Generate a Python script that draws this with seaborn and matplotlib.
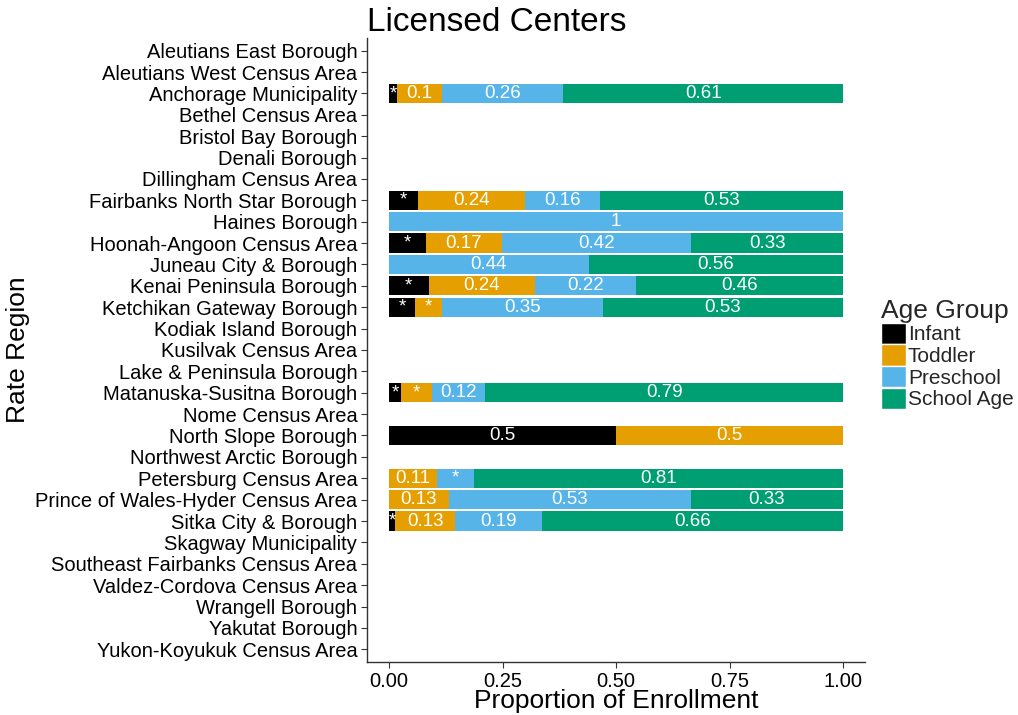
import numpy as np
import pandas as pd
import matplotlib
matplotlib.use("Agg")
import matplotlib.pyplot as plt
import seaborn as sns
from matplotlib.patches import Patch

regions = [
    "Aleutians East Borough", "Aleutians West Census Area", "Anchorage Municipality",
    "Bethel Census Area", "Bristol Bay Borough", "Denali Borough", "Dillingham Census Area",
    "Fairbanks North Star Borough", "Haines Borough", "Hoonah-Angoon Census Area",
    "Juneau City & Borough", "Kenai Peninsula Borough", "Ketchikan Gateway Borough",
    "Kodiak Island Borough", "Kusilvak Census Area", "Lake & Peninsula Borough",
    "Matanuska-Susitna Borough", "Nome Census Area", "North Slope Borough",
    "Northwest Arctic Borough", "Petersburg Census Area", "Prince of Wales-Hyder Census Area",
    "Sitka City & Borough", "Skagway Municipality", "Southeast Fairbanks Census Area",
    "Valdez-Cordova Census Area", "Wrangell Borough", "Yakutat Borough",
    "Yukon-Koyukuk Census Area",
]

groups = ["Infant", "Toddler", "Preschool", "School Age"]
colors = ["#000000", "#E69F00", "#56B4E9", "#009E73"]

infant    = [0, 0, 0.017, 0, 0, 0, 0, 0.063, 0, 0.081, 0, 0.087, 0.057, 0, 0, 0, 0.026, 0, 0.5, 0, 0, 0, 0.013, 0, 0, 0, 0, 0, 0]
toddler   = [0, 0, 0.100, 0, 0, 0, 0, 0.237, 0, 0.167, 0, 0.234, 0.060, 0, 0, 0, 0.069, 0, 0.5, 0, 0.106, 0.131, 0.133, 0, 0, 0, 0, 0, 0]
preschool = [0, 0, 0.266, 0, 0, 0, 0, 0.164, 1.0, 0.417, 0.44, 0.222, 0.353, 0, 0, 0, 0.117, 0, 0, 0, 0.081, 0.533, 0.190, 0, 0, 0, 0, 0, 0]
school    = [0, 0, 0.617, 0, 0, 0, 0, 0.536, 0, 0.335, 0.56, 0.457, 0.530, 0, 0, 0, 0.788, 0, 0, 0, 0.813, 0.336, 0.664, 0, 0, 0, 0, 0, 0]

infant_lab    = ["", "", "*", "", "", "", "", "*", "", "*", "", "*", "*", "", "", "", "*", "", "0.5", "", "", "", "*", "", "", "", "", "", ""]
toddler_lab   = ["", "", "0.1", "", "", "", "", "0.24", "", "0.17", "", "0.24", "*", "", "", "", "*", "", "0.5", "", "0.11", "0.13", "0.13", "", "", "", "", "", ""]
preschool_lab = ["", "", "0.26", "", "", "", "", "0.16", "1", "0.42", "0.44", "0.22", "0.35", "", "", "", "0.12", "", "", "", "*", "0.53", "0.19", "", "", "", "", "", ""]
school_lab    = ["", "", "0.61", "", "", "", "", "0.53", "", "0.33", "0.56", "0.46", "0.53", "", "", "", "0.79", "", "", "", "0.81", "0.33", "0.66", "", "", "", "", "", ""]

vals = np.array([infant, toddler, preschool, school])
labs = [infant_lab, toddler_lab, preschool_lab, school_lab]
cum = np.cumsum(vals, axis=0)
starts = cum - vals

sns.set_theme(style="white")
plt.rcParams['font.family'] = ['Liberation Sans', 'DejaVu Sans']

fig = plt.figure(figsize=(10.18, 7.15), dpi=100)
ax = fig.add_axes([0.3605, 0.074, 0.4895, 0.873])

# stacked bars via overlapping cumulative bars (largest first)
for gi in range(3, -1, -1):
    v = np.where(vals[gi] > 0, cum[gi], 0.0)
    df = pd.DataFrame({"region": regions, "value": v})
    sns.barplot(data=df, x="value", y="region", order=regions, orient="h",
                color=colors[gi], saturation=1, width=0.9, ax=ax, errorbar=None,
                linewidth=0)

for gi in range(4):
    for ri in range(len(regions)):
        if labs[gi][ri] and vals[gi][ri] > 0:
            ax.text(starts[gi][ri] + vals[gi][ri] / 2, ri, labs[gi][ri],
                    color="white", ha="center", va="center", fontsize=13.5)

ax.set_xlim(-0.0485, 1.0485)
ax.set_ylim(len(regions) - 0.4, -0.6)
ax.set_xticks([0, 0.25, 0.5, 0.75, 1.0])
ax.set_xticklabels(["0.00", "0.25", "0.50", "0.75", "1.00"])
ax.tick_params(axis="both", labelsize=14.5, colors="#333333", labelcolor="black",
               length=4, width=0.8, left=True, bottom=True, pad=3)
ax.set_xlabel("Proportion of Enrollment", fontsize=19, color="black", labelpad=-1)
ax.set_ylabel("Rate Region", fontsize=19, color="black", labelpad=4)
ax.set_title("Licensed Centers", loc="left", fontsize=24, color="black", pad=5)
for s in ["top", "right"]:
    ax.spines[s].set_visible(False)
for s in ["left", "bottom"]:
    ax.spines[s].set_color("#333333")
    ax.spines[s].set_linewidth(1.0)

handles = [Patch(facecolor=c, edgecolor="white", label=g) for g, c in zip(groups, colors)]
leg = fig.legend(handles=handles, title="Age Group", loc="center left",
                 bbox_to_anchor=(0.851, 0.505), frameon=False, fontsize=15,
                 title_fontsize=19, handlelength=1.2, handleheight=1.2,
                 handletextpad=0.1, labelspacing=0.0, borderpad=0.2)
leg._legend_box.align = "left"

fig.savefig("out.png", dpi=100)
